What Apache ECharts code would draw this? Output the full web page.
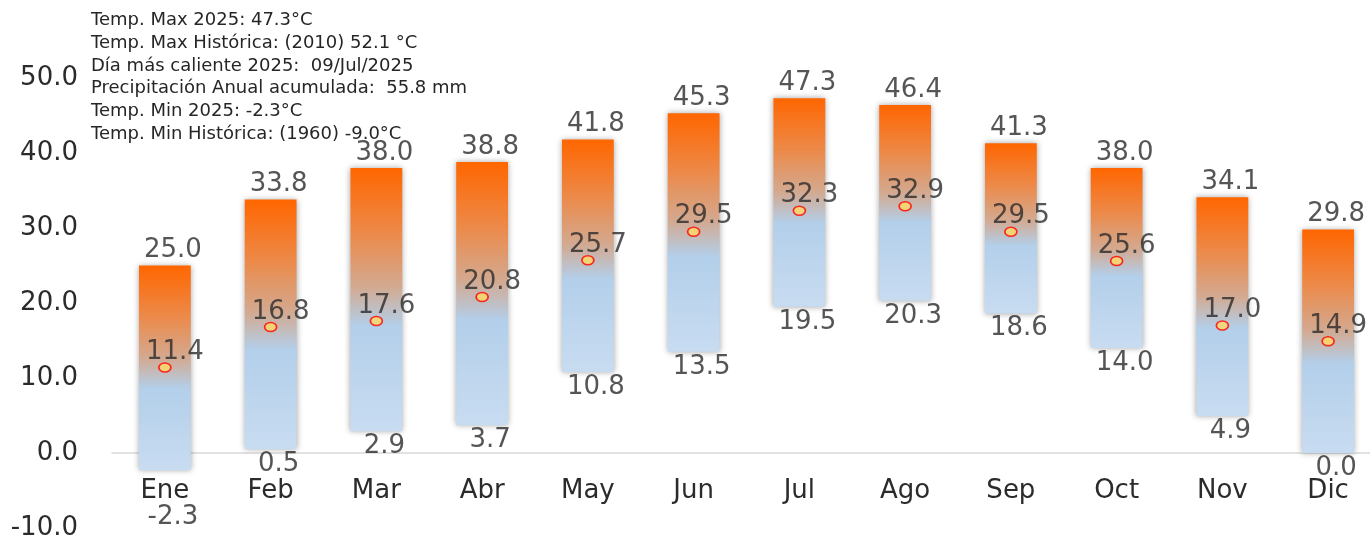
<!DOCTYPE html>
<html>
<head>
<meta charset="utf-8">
<script src="https://cdn.jsdelivr.net/npm/echarts@6/dist/echarts.min.js"></script>
<style>
  html, body { margin: 0; padding: 0; background: #fff; }
  #chart { width: 1370px; height: 538px; }
</style>
</head>
<body>
<div id="chart"></div>
<script>
var months = ['Ene', 'Feb', 'Mar', 'Abr', 'May', 'Jun', 'Jul', 'Ago', 'Sep', 'Oct', 'Nov', 'Dic'];
var maxVals = [25.0, 33.8, 38.0, 38.8, 41.8, 45.3, 47.3, 46.4, 41.3, 38.0, 34.1, 29.8];
var minVals = [-2.3, 0.5, 2.9, 3.7, 10.8, 13.5, 19.5, 20.3, 18.6, 14.0, 4.9, 0.0];
var avgVals = [11.4, 16.8, 17.6, 20.8, 25.7, 29.5, 32.3, 32.9, 29.5, 25.6, 17.0, 14.9];
var infoLines = [
  'Temp. Max 2025: 47.3°C',
  'Temp. Max Histórica: (2010) 52.1 °C',
  'Día más caliente 2025:  09/Jul/2025',
  'Precipitación Anual acumulada:  55.8 mm',
  'Temp. Min 2025: -2.3°C',
  'Temp. Min Histórica: (1960) -9.0°C'
];

var labelFont = 'DejaVu Sans';
var labelColor = '#2b2b2b';

var chart = echarts.init(document.getElementById('chart'));

// naranja arriba -> azul claro abajo
function barGradient() {
  return new echarts.graphic.LinearGradient(0, 0, 0, 1, [
    { offset: 0, color: '#FF6600' },
    { offset: 0.25, color: '#EC8A4A' },
    { offset: 0.45, color: '#D3A990' },
    { offset: 0.6, color: '#B3CFEA' },
    { offset: 1, color: '#C8DCF1' }
  ]);
}

chart.setOption({
  animation: false,
  title: {
    text: infoLines.join('\n'),
    left: 86,
    top: 4,
    textStyle: {
      fontFamily: 'DejaVu Sans',
      fontSize: 18,
      fontWeight: 'normal',
      lineHeight: 22.8,
      color: '#262626'
    }
  },
  grid: {
    left: 112,
    right: -11,
    top: 78,
    bottom: 10,
    outerBoundsMode: 'none'
  },
  xAxis: {
    type: 'category',
    data: months,
    axisTick: { show: false },
    axisLine: { onZero: true, lineStyle: { color: '#D9D9D9', width: 1.5 } },
    axisLabel: {
      margin: -50,
      fontFamily: labelFont,
      fontSize: 26,
      color: labelColor
    }
  },
  yAxis: {
    type: 'value',
    min: -10,
    max: 50,
    interval: 10,
    splitLine: { show: false },
    axisLine: { show: false },
    axisTick: { show: false },
    axisLabel: {
      margin: 34,
      fontFamily: labelFont,
      fontSize: 26,
      color: labelColor,
      formatter: function (v) { return v.toFixed(1); }
    }
  },
  series: [
    {
      type: 'custom',
      name: 'Rango',
      data: months.map(function (m, i) { return [i, minVals[i], maxVals[i]]; }),
      encode: { x: 0, y: [1, 2] },
      renderItem: function (params, api) {
        var lo = api.coord([api.value(0), api.value(1)]);
        var hi = api.coord([api.value(0), api.value(2)]);
        var w = api.size([1, 0])[0] * 0.49;
        return {
          type: 'rect',
          shape: { x: lo[0] - w / 2, y: hi[1], width: w, height: lo[1] - hi[1] },
          style: {
            fill: barGradient(),
            shadowBlur: 6,
            shadowColor: 'rgba(0,0,0,0.35)'
          }
        };
      }
    },
    {
      type: 'scatter',
      name: 'Max',
      data: maxVals,
      symbolSize: 0,
      z: 4,
      label: {
        show: true,
        position: 'top',
        distance: 2,
        offset: [8, 0],
        fontFamily: labelFont,
        fontSize: 26,
        color: labelColor,
        formatter: function (p) { return p.value.toFixed(1); }
      }
    },
    {
      type: 'scatter',
      name: 'Min',
      data: minVals.map(function (v) {
        return v < 0 ? { value: v, label: { distance: 34 } } : v;
      }),
      symbolSize: 0,
      z: 4,
      label: {
        show: true,
        position: 'bottom',
        distance: 2,
        offset: [8, 0],
        fontFamily: labelFont,
        fontSize: 26,
        color: labelColor,
        formatter: function (p) { return p.value.toFixed(1); }
      }
    },
    {
      type: 'scatter',
      name: 'Promedio',
      data: avgVals,
      symbol: 'circle',
      symbolSize: [12, 9],
      z: 5,
      itemStyle: { color: '#FFD966', borderColor: '#FF0000', borderWidth: 1.5 },
      label: {
        show: true,
        position: 'top',
        distance: -3,
        offset: [10, 0],
        fontFamily: labelFont,
        fontSize: 26,
        color: labelColor,
        formatter: function (p) { return p.value.toFixed(1); }
      }
    }
  ]
});
</script>
</body>
</html>
